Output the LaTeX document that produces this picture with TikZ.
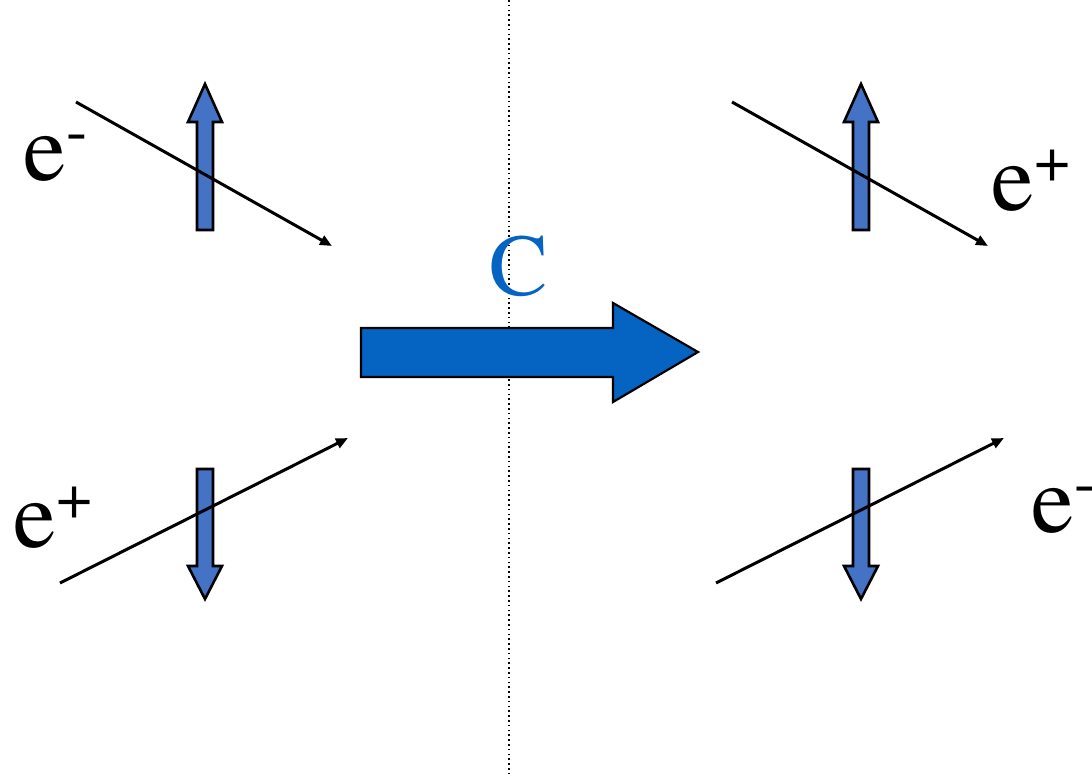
\documentclass[tikz,border=0pt]{standalone}
\usepackage{fontspec}
\setmainfont{texgyretermes-regular.otf}
\newfontfamily\timesfont{texgyretermes-regular.otf}
\usepackage{tikz}
\usetikzlibrary{arrows.meta}
\definecolor{spinblue}{HTML}{4472C4}
\definecolor{cblue}{HTML}{0563C1}
\newcommand{\elec}[1]{e\raisebox{14.5pt}{\fontsize{32}{34}\selectfont #1}}

\begin{document}
\begin{tikzpicture}[
  x=0.5pt,y=-0.5pt,
  every node/.style={inner sep=0pt,anchor=base west,
    font=\timesfont\fontsize{48}{52}\selectfont},
  momentum/.style={line width=1.5pt,-{Triangle[length=6pt,width=5pt]}},
  spinarrow/.style={draw=black,line width=1.3pt,fill=spinblue,line join=miter},
  bigarrow/.style={draw=black,line width=1.1pt,fill=cblue,line join=miter},
  mirror/.style={line width=0.8pt,dash pattern=on 0.8pt off 1.6pt}
]
\useasboundingbox (0,0) rectangle (1092,777);
% mirror line
\coordinate (mtop) at (509,0);
\coordinate (mbot) at (509,777);
\draw[mirror] (mtop) -- (mbot);
% spin arrows
\foreach \x in {205,861} {
  \draw[spinarrow] (\x-8,230) -- (\x-8,122) -- (\x-17,122) -- (\x,84)
    -- (\x+17,122) -- (\x+8,122) -- (\x+8,230) -- cycle;
  \draw[spinarrow] (\x-8,469) -- (\x-8,566) -- (\x-17,566) -- (\x,599)
    -- (\x+17,566) -- (\x+8,566) -- (\x+8,469) -- cycle;
}
% momenta
\coordinate (pa0) at (76,102);   \coordinate (pa1) at (332,246);
\coordinate (pb0) at (60,583);   \coordinate (pb1) at (348,438);
\coordinate (pc0) at (732,102);  \coordinate (pc1) at (988,246);
\coordinate (pd0) at (716,583);  \coordinate (pd1) at (1004,438);
\draw[momentum] (pa0) -- (pa1);
\draw[momentum] (pb0) -- (pb1);
\draw[momentum] (pc0) -- (pc1);
\draw[momentum] (pd0) -- (pd1);
% particle labels
\node (em1) at (23,180) {\elec{-}};
\node (ep1) at (13,547) {\elec{+}};
\node (ep2) at (991,210) {\elec{+}};
\node (em2) at (1031,532) {\elec{-}};
% charge conjugation
\draw[bigarrow] (361,328) -- (613,328) -- (613,303) -- (698,352)
  -- (613,402) -- (613,377) -- (361,377) -- cycle;
\node[text=cblue,font=\timesfont\fontsize{44}{48}\selectfont] (cop) at (489,295) {C};
\end{tikzpicture}
\end{document}
